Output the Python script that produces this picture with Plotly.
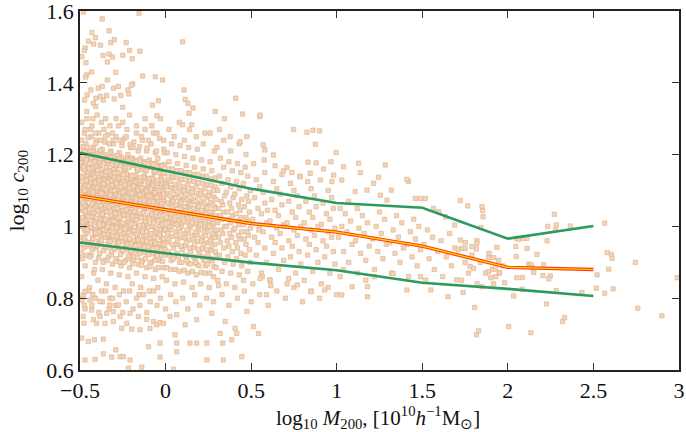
import plotly.graph_objects as go

# ---------------- binned statistics (lines) ----------------
bin_x = [-0.5, 0.0, 0.5, 1.0, 1.5, 2.0, 2.5]
upper_y = [1.205, 1.155, 1.105, 1.065, 1.052, 0.966, 1.001]
median_y = [1.085, 1.047, 1.008, 0.984, 0.945, 0.886, 0.880]
lower_y = [0.955, 0.925, 0.899, 0.878, 0.843, 0.826, 0.806]

x_ticks = [-0.5, 0, 0.5, 1, 1.5, 2, 2.5, 3]
x_labels = ["\u22120.5", "0", "0.5", "1", "1.5", "2", "2.5", "3"]
y_ticks = [0.6, 0.8, 1.0, 1.2, 1.4, 1.6]
y_labels = ["0.6", "0.8", "1", "1.2", "1.4", "1.6"]
x_title = "log<sub>10</sub> <i>M</i><sub>200</sub>, [10<sup>10</sup><i>h</i><sup>\u22121</sup>M<sub>\u2299</sub>]"
y_title = "log<sub>10</sub> <i>c</i><sub>200</sub>"

# ---------------- halo points ----------------
core_low_mass = [
(-0.49,0.86),(-0.47,0.89),(-0.46,0.92),(-0.48,0.94),(-0.455,0.95),(-0.495,0.97),(-0.465,0.98),(-0.475,0.99),(-0.485,1.00),(-0.46,1.01),(-0.49,1.02),(-0.47,1.03),(-0.455,1.04),(-0.48,1.05),(-0.465,1.055),(-0.495,1.06),(-0.475,1.07),(-0.46,1.075),(-0.485,1.08),(-0.47,1.09),(-0.49,1.10),(-0.455,1.105),(-0.48,1.11),(-0.465,1.12),(-0.475,1.13),(-0.495,1.14),(-0.46,1.15),(-0.485,1.16),(-0.47,1.17),(-0.49,1.18),(-0.455,1.19),(-0.48,1.21),(-0.465,1.23),(-0.475,1.26),(-0.49,1.29),(-0.46,1.32),(-0.485,0.91),(-0.47,0.96),(-0.455,1.00),(-0.49,1.045),(-0.465,1.095),(-0.48,1.135),(-0.495,1.19),(-0.47,1.065),(-0.485,1.025),
(-0.445,0.83),(-0.42,0.87),(-0.41,0.90),(-0.435,0.92),(-0.405,0.94),(-0.44,0.955),(-0.425,0.97),(-0.415,0.985),(-0.43,0.995),(-0.445,1.005),(-0.41,1.015),(-0.435,1.025),(-0.42,1.035),(-0.405,1.045),(-0.44,1.055),(-0.425,1.06),(-0.415,1.07),(-0.43,1.08),(-0.445,1.09),(-0.41,1.095),(-0.435,1.105),(-0.42,1.115),(-0.405,1.125),(-0.44,1.135),(-0.425,1.145),(-0.415,1.155),(-0.43,1.165),(-0.445,1.175),(-0.41,1.185),(-0.435,1.2),(-0.42,1.22),(-0.405,1.24),(-0.44,1.27),(-0.425,1.30),(-0.415,0.88),(-0.43,0.935),(-0.405,0.99),(-0.445,1.04),(-0.42,1.085),(-0.41,1.14),(-0.435,1.25),(-0.425,0.81),
(-0.395,0.85),(-0.37,0.88),(-0.36,0.905),(-0.385,0.925),(-0.355,0.94),(-0.39,0.96),(-0.375,0.97),(-0.365,0.98),(-0.38,0.99),(-0.395,1.0),(-0.36,1.01),(-0.385,1.02),(-0.37,1.03),(-0.355,1.04),(-0.39,1.05),(-0.375,1.06),(-0.365,1.065),(-0.38,1.075),(-0.395,1.085),(-0.36,1.09),(-0.385,1.1),(-0.37,1.11),(-0.355,1.12),(-0.39,1.13),(-0.375,1.14),(-0.365,1.15),(-0.38,1.16),(-0.395,1.17),(-0.36,1.185),(-0.385,1.2),(-0.37,1.215),(-0.355,1.235),(-0.39,1.26),(-0.375,1.29),(-0.365,0.9),(-0.38,0.95),(-0.355,1.0),(-0.395,1.045),(-0.37,1.095),(-0.36,1.135),(-0.385,1.18),(-0.375,0.82),
(-0.345,0.84),(-0.32,0.87),(-0.31,0.895),(-0.335,0.915),(-0.305,0.935),(-0.34,0.95),(-0.325,0.965),(-0.315,0.975),(-0.33,0.985),(-0.345,0.995),(-0.31,1.005),(-0.335,1.015),(-0.32,1.025),(-0.305,1.035),(-0.34,1.045),(-0.325,1.05),(-0.315,1.06),(-0.33,1.07),(-0.345,1.08),(-0.31,1.085),(-0.335,1.095),(-0.32,1.105),(-0.305,1.115),(-0.34,1.125),(-0.325,1.135),(-0.315,1.145),(-0.33,1.155),(-0.345,1.165),(-0.31,1.18),(-0.335,1.195),(-0.32,1.21),(-0.305,1.23),(-0.34,1.255),(-0.325,1.28),(-0.315,0.92),(-0.33,0.96),(-0.305,1.0),(-0.345,1.04),(-0.32,1.09),(-0.31,1.13),(-0.335,1.175),(-0.325,0.8),
(-0.295,0.83),(-0.27,0.865),(-0.26,0.89),(-0.285,0.91),(-0.255,0.93),(-0.29,0.945),(-0.275,0.96),(-0.265,0.97),(-0.28,0.98),(-0.295,0.99),(-0.26,1.0),(-0.285,1.01),(-0.27,1.02),(-0.255,1.03),(-0.29,1.04),(-0.275,1.045),(-0.265,1.055),(-0.28,1.065),(-0.295,1.075),(-0.26,1.08),(-0.285,1.09),(-0.27,1.1),(-0.255,1.11),(-0.29,1.12),(-0.275,1.13),(-0.265,1.14),(-0.28,1.15),(-0.295,1.16),(-0.26,1.175),(-0.285,1.19),(-0.27,1.205),(-0.255,1.225),(-0.29,1.25),(-0.275,1.28),(-0.265,0.9),(-0.28,0.955),(-0.255,0.995),(-0.295,1.035),(-0.27,1.085),(-0.26,1.125),(-0.285,1.17),
(-0.245,0.82),(-0.22,0.86),(-0.21,0.885),(-0.235,0.905),(-0.205,0.925),(-0.24,0.94),(-0.225,0.955),(-0.215,0.965),(-0.23,0.975),(-0.245,0.985),(-0.21,0.995),(-0.235,1.005),(-0.22,1.015),(-0.205,1.025),(-0.24,1.035),(-0.225,1.045),(-0.215,1.05),(-0.23,1.06),(-0.245,1.07),(-0.21,1.075),(-0.235,1.085),(-0.22,1.095),(-0.205,1.105),(-0.24,1.115),(-0.225,1.125),(-0.215,1.135),(-0.23,1.145),(-0.245,1.155),(-0.21,1.17),(-0.235,1.185),(-0.22,1.2),(-0.205,1.22),(-0.24,1.245),(-0.225,1.27),(-0.215,0.91),(-0.23,0.95),(-0.205,0.99),(-0.245,1.03),(-0.22,1.08),(-0.21,1.12),(-0.235,1.16),
(-0.195,0.84),(-0.17,0.87),(-0.16,0.895),(-0.185,0.915),(-0.155,0.93),(-0.19,0.945),(-0.175,0.96),(-0.165,0.97),(-0.18,0.98),(-0.195,0.99),(-0.16,1.0),(-0.185,1.01),(-0.17,1.02),(-0.155,1.03),(-0.19,1.04),(-0.175,1.05),(-0.165,1.06),(-0.18,1.07),(-0.195,1.08),(-0.16,1.09),(-0.185,1.1),(-0.17,1.11),(-0.155,1.12),(-0.19,1.13),(-0.175,1.14),(-0.165,1.155),(-0.18,1.17),(-0.195,1.19),(-0.16,1.21),(-0.185,1.235),(-0.17,1.26),(-0.155,0.81),(-0.19,0.905),(-0.165,0.95),(-0.18,1.035),(-0.16,1.075),(-0.185,1.125),
(-0.145,0.83),(-0.12,0.86),(-0.11,0.885),(-0.135,0.905),(-0.105,0.925),(-0.14,0.94),(-0.125,0.955),(-0.115,0.965),(-0.13,0.975),(-0.145,0.985),(-0.11,0.995),(-0.135,1.005),(-0.12,1.015),(-0.105,1.025),(-0.14,1.035),(-0.125,1.045),(-0.115,1.055),(-0.13,1.065),(-0.145,1.075),(-0.11,1.085),(-0.135,1.095),(-0.12,1.105),(-0.105,1.115),(-0.14,1.125),(-0.125,1.14),(-0.115,1.155),(-0.13,1.17),(-0.145,1.19),(-0.11,1.21),(-0.135,1.24),(-0.12,1.27),(-0.14,0.9),(-0.115,0.945),(-0.13,1.04),(-0.11,1.07),(-0.135,1.13),
(-0.095,0.82),(-0.07,0.855),(-0.06,0.88),(-0.085,0.9),(-0.055,0.92),(-0.09,0.935),(-0.075,0.95),(-0.065,0.96),(-0.08,0.97),(-0.095,0.98),(-0.06,0.99),(-0.085,1.0),(-0.07,1.01),(-0.055,1.02),(-0.09,1.03),(-0.075,1.04),(-0.065,1.05),(-0.08,1.06),(-0.095,1.07),(-0.06,1.08),(-0.085,1.09),(-0.07,1.1),(-0.055,1.11),(-0.09,1.12),(-0.075,1.135),(-0.065,1.15),(-0.08,1.165),(-0.095,1.185),(-0.06,1.205),(-0.085,1.23),(-0.07,1.26),(-0.09,0.895),(-0.065,0.94),(-0.08,1.025),(-0.06,1.065),(-0.085,1.12),
(-0.045,0.83),(-0.02,0.86),(-0.01,0.885),(-0.035,0.905),(-0.005,0.92),(-0.04,0.935),(-0.025,0.95),(-0.015,0.96),(-0.03,0.97),(-0.045,0.98),(-0.01,0.99),(-0.035,1.0),(-0.02,1.01),(-0.005,1.02),(-0.04,1.03),(-0.025,1.04),(-0.015,1.05),(-0.03,1.06),(-0.045,1.07),(-0.01,1.08),(-0.035,1.09),(-0.02,1.1),(-0.005,1.11),(-0.04,1.12),(-0.025,1.135),(-0.015,1.15),(-0.03,1.17),(-0.045,1.19),(-0.01,1.215),(-0.035,1.245),(-0.04,0.91),(-0.015,0.945),(-0.03,1.035),(-0.01,1.07),(-0.035,1.115),
]

core_fill = [
(-0.4925,0.925),(-0.4625,0.945),(-0.4775,0.962),(-0.4525,0.985),(-0.4875,1.004),(-0.4675,1.016),(-0.4575,1.034),(-0.4825,1.047),(-0.4725,1.058),(-0.4925,1.073),(-0.4525,1.086),(-0.4775,1.098),(-0.4625,1.114),(-0.4875,1.126),(-0.4575,1.143),(-0.4725,1.156),(-0.4925,1.172),(-0.4675,1.198),(-0.4825,1.222),(-0.4525,1.247),
(-0.4425,0.915),(-0.4175,0.948),(-0.4275,0.96),(-0.4025,0.978),(-0.4375,0.998),(-0.4125,1.012),(-0.4325,1.028),(-0.4075,1.05),(-0.4225,1.066),(-0.4475,1.078),(-0.4025,1.102),(-0.4275,1.092),(-0.4125,1.11),(-0.4375,1.122),(-0.4175,1.138),(-0.4475,1.152),(-0.4025,1.168),(-0.4325,1.19),(-0.4225,1.21),(-0.4075,1.232),
(-0.3925,0.912),(-0.3625,0.932),(-0.3775,0.954),(-0.3525,0.97),(-0.3875,0.985),(-0.3675,1.005),(-0.3575,1.022),(-0.3825,1.036),(-0.3725,1.052),(-0.3925,1.066),(-0.3525,1.079),(-0.3775,1.09),(-0.3625,1.106),(-0.3875,1.118),(-0.3575,1.132),(-0.3725,1.146),(-0.3925,1.162),(-0.3675,1.19),(-0.3825,1.212),(-0.3525,1.25),
(-0.3425,0.905),(-0.3175,0.93),(-0.3275,0.946),(-0.3025,0.962),(-0.3375,0.978),(-0.3125,0.996),(-0.3325,1.01),(-0.3075,1.028),(-0.3225,1.042),(-0.3475,1.058),(-0.3025,1.072),(-0.3275,1.082),(-0.3125,1.098),(-0.3375,1.11),(-0.3175,1.126),(-0.3475,1.14),(-0.3025,1.158),(-0.3325,1.182),(-0.3225,1.205),(-0.3075,1.24),
(-0.2925,0.902),(-0.2625,0.922),(-0.2775,0.94),(-0.2525,0.958),(-0.2875,0.972),(-0.2675,0.988),(-0.2575,1.006),(-0.2825,1.022),(-0.2725,1.036),(-0.2925,1.052),(-0.2525,1.066),(-0.2775,1.076),(-0.2625,1.092),(-0.2875,1.104),(-0.2575,1.118),(-0.2725,1.134),(-0.2925,1.15),(-0.2675,1.172),(-0.2825,1.198),(-0.2525,1.235),
(-0.2425,0.9),(-0.2175,0.918),(-0.2275,0.935),(-0.2025,0.952),(-0.2375,0.968),(-0.2125,0.982),(-0.2325,0.998),(-0.2075,1.012),(-0.2225,1.03),(-0.2475,1.044),(-0.2025,1.058),(-0.2275,1.07),(-0.2125,1.086),(-0.2375,1.1),(-0.2175,1.112),(-0.2475,1.128),(-0.2025,1.142),(-0.2325,1.165),(-0.2225,1.19),(-0.2075,1.228),
(-0.1925,0.896),(-0.1625,0.914),(-0.1775,0.932),(-0.1525,0.948),(-0.1875,0.962),(-0.1675,0.978),(-0.1575,0.995),(-0.1825,1.008),(-0.1725,1.026),(-0.1925,1.04),(-0.1525,1.055),(-0.1775,1.066),(-0.1625,1.082),(-0.1875,1.095),(-0.1575,1.108),(-0.1725,1.124),(-0.1925,1.138),(-0.1675,1.162),(-0.1825,1.185),(-0.1525,1.222),
(-0.1425,0.892),(-0.1175,0.91),(-0.1275,0.928),(-0.1025,0.944),(-0.1375,0.96),(-0.1125,0.975),(-0.1325,0.99),(-0.1075,1.004),(-0.1225,1.022),(-0.1475,1.036),(-0.1025,1.05),(-0.1275,1.062),(-0.1125,1.078),(-0.1375,1.09),(-0.1175,1.104),(-0.1475,1.118),(-0.1025,1.134),(-0.1325,1.158),(-0.1225,1.18),(-0.1075,1.218),
(-0.0925,0.888),(-0.0625,0.906),(-0.0775,0.924),(-0.0525,0.94),(-0.0875,0.955),(-0.0675,0.97),(-0.0575,0.986),(-0.0825,1.0),(-0.0725,1.016),(-0.0925,1.032),(-0.0525,1.046),(-0.0775,1.058),(-0.0625,1.074),(-0.0875,1.086),(-0.0575,1.1),(-0.0725,1.114),(-0.0925,1.13),(-0.0675,1.152),(-0.0825,1.175),(-0.0525,1.21),
(-0.0425,0.885),(-0.0175,0.902),(-0.0275,0.92),(-0.0025,0.936),(-0.0375,0.952),(-0.0125,0.966),(-0.0325,0.982),(-0.0075,0.996),(-0.0225,1.012),(-0.0475,1.028),(-0.0025,1.042),(-0.0275,1.054),(-0.0125,1.07),(-0.0375,1.082),(-0.0175,1.096),(-0.0475,1.11),(-0.0025,1.126),(-0.0325,1.148),(-0.0225,1.17),(-0.0075,1.205),
(0.0075,0.885),(0.0325,0.905),(0.0225,0.922),(0.0475,0.94),(0.0125,0.955),(0.0375,0.972),(0.0175,0.99),(0.0425,1.006),(0.0275,1.022),(0.0025,1.04),(0.0475,1.05),(0.0225,1.062),(0.0375,1.08),(0.0125,1.092),(0.0325,1.108),(0.0075,1.12),(0.0425,1.138),(0.0175,1.16),
(0.0575,0.88),(0.0825,0.9),(0.0725,0.918),(0.0975,0.935),(0.0625,0.95),(0.0875,0.968),(0.0675,0.985),(0.0925,1.0),(0.0775,1.016),(0.0525,1.035),(0.0975,1.045),(0.0725,1.058),(0.0875,1.075),(0.0625,1.088),(0.0825,1.104),(0.0575,1.116),(0.0925,1.132),(0.0675,1.155),
(0.1075,0.878),(0.1325,0.898),(0.1225,0.915),(0.1475,0.93),(0.1125,0.946),(0.1375,0.962),(0.1175,0.98),(0.1425,0.996),(0.1275,1.01),(0.1025,1.03),(0.1475,1.04),(0.1225,1.052),(0.1375,1.07),(0.1125,1.082),(0.1325,1.098),(0.1075,1.11),(0.1425,1.128),(0.1175,1.15),
(0.1575,0.875),(0.1825,0.895),(0.1725,0.91),(0.1975,0.926),(0.1625,0.942),(0.1875,0.958),(0.1675,0.975),(0.1925,0.99),(0.1775,1.005),(0.1525,1.024),(0.1975,1.035),(0.1725,1.046),(0.1875,1.064),(0.1625,1.076),(0.1825,1.092),(0.1575,1.105),(0.1925,1.122),(0.1675,1.145),
(0.2075,0.872),(0.2325,0.89),(0.2225,0.906),(0.2475,0.922),(0.2125,0.938),(0.2375,0.954),(0.2175,0.97),(0.2425,0.986),(0.2275,1.0),(0.2025,1.018),(0.2475,1.03),(0.2225,1.042),(0.2375,1.058),(0.2125,1.07),(0.2325,1.086),(0.2075,1.1),(0.2425,1.116),(0.2175,1.14),
(0.2575,0.87),(0.2825,0.888),(0.2725,0.904),(0.2975,0.918),(0.2625,0.934),(0.2875,0.95),(0.2675,0.966),(0.2925,0.982),(0.2775,0.996),(0.2525,1.014),(0.2975,1.026),(0.2725,1.038),(0.2875,1.054),(0.2625,1.066),(0.2825,1.082),(0.2575,1.094),(0.2925,1.11),(0.2675,1.132),
]

core_fill_dense = [
(-0.498,0.952),(-0.474,0.968),(-0.459,0.991),(-0.486,1.012),(-0.451,1.027),(-0.469,1.042),(-0.494,1.052),(-0.481,1.066),(-0.457,1.082),(-0.473,1.101),(-0.499,1.108),(-0.462,1.128),(-0.488,1.138),(-0.452,1.152),(-0.478,1.166),(-0.497,1.178),(-0.463,1.186),(-0.484,1.196),(-0.456,1.212),(-0.471,1.207),
(-0.448,0.95),(-0.424,0.966),(-0.409,0.982),(-0.436,1.008),(-0.401,1.022),(-0.419,1.038),(-0.444,1.048),(-0.431,1.062),(-0.407,1.078),(-0.423,1.096),(-0.449,1.112),(-0.412,1.122),(-0.438,1.132),(-0.402,1.148),(-0.428,1.162),(-0.447,1.16),(-0.413,1.18),(-0.434,1.192),(-0.406,1.205),(-0.421,1.2),
(-0.398,0.946),(-0.374,0.962),(-0.359,0.978),(-0.386,1.004),(-0.351,1.018),(-0.369,1.034),(-0.394,1.044),(-0.381,1.058),(-0.357,1.074),(-0.373,1.092),(-0.399,1.108),(-0.362,1.118),(-0.388,1.128),(-0.352,1.144),(-0.378,1.158),(-0.397,1.156),(-0.363,1.176),(-0.384,1.188),(-0.356,1.2),(-0.371,1.196),
(-0.348,0.942),(-0.324,0.958),(-0.309,0.974),(-0.336,1.0),(-0.301,1.014),(-0.319,1.03),(-0.344,1.04),(-0.331,1.054),(-0.307,1.07),(-0.323,1.088),(-0.349,1.104),(-0.312,1.114),(-0.338,1.124),(-0.302,1.14),(-0.328,1.154),(-0.347,1.152),(-0.313,1.172),(-0.334,1.184),(-0.306,1.196),(-0.321,1.192),
(-0.298,0.938),(-0.274,0.954),(-0.259,0.97),(-0.286,0.996),(-0.251,1.01),(-0.269,1.026),(-0.294,1.036),(-0.281,1.05),(-0.257,1.066),(-0.273,1.084),(-0.299,1.1),(-0.262,1.11),(-0.288,1.12),(-0.252,1.136),(-0.278,1.15),(-0.297,1.148),(-0.263,1.168),(-0.284,1.18),(-0.256,1.192),(-0.271,1.188),
(-0.248,0.934),(-0.224,0.95),(-0.209,0.966),(-0.236,0.992),(-0.201,1.006),(-0.219,1.022),(-0.244,1.032),(-0.231,1.046),(-0.207,1.062),(-0.223,1.08),(-0.249,1.096),(-0.212,1.106),(-0.238,1.116),(-0.202,1.132),(-0.228,1.146),(-0.247,1.144),(-0.213,1.164),(-0.234,1.176),(-0.206,1.188),(-0.221,1.184),
(-0.198,0.93),(-0.174,0.946),(-0.159,0.962),(-0.186,0.988),(-0.151,1.002),(-0.169,1.018),(-0.194,1.028),(-0.181,1.042),(-0.157,1.058),(-0.173,1.076),(-0.199,1.092),(-0.162,1.102),(-0.188,1.112),(-0.152,1.128),(-0.178,1.142),(-0.197,1.14),(-0.163,1.16),(-0.184,1.172),(-0.156,1.184),(-0.171,1.18),
(-0.148,0.926),(-0.124,0.942),(-0.109,0.958),(-0.136,0.984),(-0.101,0.998),(-0.119,1.014),(-0.144,1.024),(-0.131,1.038),(-0.107,1.054),(-0.123,1.072),(-0.149,1.088),(-0.112,1.098),(-0.138,1.108),(-0.102,1.124),(-0.128,1.138),(-0.147,1.136),(-0.113,1.156),(-0.134,1.168),(-0.106,1.18),(-0.121,1.176),
(-0.098,0.922),(-0.074,0.938),(-0.059,0.954),(-0.086,0.98),(-0.051,0.994),(-0.069,1.01),(-0.094,1.02),(-0.081,1.034),(-0.057,1.05),(-0.073,1.068),(-0.099,1.084),(-0.062,1.094),(-0.088,1.104),(-0.052,1.12),(-0.078,1.134),(-0.097,1.132),(-0.063,1.152),(-0.084,1.164),(-0.056,1.176),(-0.071,1.172),
(-0.048,0.918),(-0.024,0.934),(-0.009,0.95),(-0.036,0.976),(-0.001,0.99),(-0.019,1.006),(-0.044,1.016),(-0.031,1.03),(-0.007,1.046),(-0.023,1.064),(-0.049,1.08),(-0.012,1.09),(-0.038,1.1),(-0.002,1.116),(-0.028,1.13),(-0.047,1.128),(-0.013,1.148),(-0.034,1.16),(-0.006,1.172),(-0.021,1.168),
]

core_mid_mass = [
(0.005,0.85),(0.03,0.88),(0.045,0.91),(0.015,0.93),(0.04,0.95),(0.02,0.965),(0.01,0.98),(0.035,0.99),(0.025,1.0),(0.045,1.015),(0.005,1.025),(0.03,1.035),(0.02,1.045),(0.04,1.055),(0.01,1.065),(0.035,1.075),(0.025,1.085),(0.045,1.1),(0.005,1.11),(0.03,1.125),(0.015,1.14),(0.04,1.16),(0.02,1.18),(0.01,1.205),(0.035,1.23),(0.025,0.92),(0.045,1.07),(0.015,1.01),
(0.055,0.84),(0.08,0.875),(0.095,0.9),(0.065,0.925),(0.09,0.945),(0.07,0.96),(0.06,0.975),(0.085,0.985),(0.075,0.995),(0.095,1.01),(0.055,1.02),(0.08,1.03),(0.07,1.04),(0.09,1.05),(0.06,1.06),(0.085,1.07),(0.075,1.08),(0.095,1.095),(0.055,1.105),(0.08,1.12),(0.065,1.135),(0.09,1.155),(0.07,1.175),(0.06,1.2),(0.085,1.225),(0.075,0.915),(0.095,1.065),(0.065,1.005),
(0.105,0.845),(0.13,0.87),(0.145,0.895),(0.115,0.92),(0.14,0.94),(0.12,0.955),(0.11,0.97),(0.135,0.98),(0.125,0.99),(0.145,1.005),(0.105,1.015),(0.13,1.025),(0.12,1.035),(0.14,1.045),(0.11,1.055),(0.135,1.065),(0.125,1.075),(0.145,1.09),(0.105,1.1),(0.13,1.115),(0.115,1.13),(0.14,1.15),(0.12,1.17),(0.11,1.195),(0.135,1.22),(0.125,0.905),(0.145,1.06),
(0.155,0.83),(0.18,0.865),(0.195,0.89),(0.165,0.915),(0.19,0.935),(0.17,0.95),(0.16,0.965),(0.185,0.975),(0.175,0.985),(0.195,1.0),(0.155,1.01),(0.18,1.02),(0.17,1.03),(0.19,1.04),(0.16,1.05),(0.185,1.06),(0.175,1.07),(0.195,1.085),(0.155,1.095),(0.18,1.11),(0.165,1.125),(0.19,1.145),(0.17,1.165),(0.16,1.19),(0.185,1.215),(0.175,0.9),(0.195,1.055),
(0.205,0.84),(0.23,0.87),(0.245,0.895),(0.215,0.915),(0.24,0.935),(0.22,0.95),(0.21,0.96),(0.235,0.975),(0.225,0.985),(0.245,0.995),(0.205,1.005),(0.23,1.015),(0.22,1.025),(0.24,1.035),(0.21,1.045),(0.235,1.055),(0.225,1.065),(0.245,1.08),(0.205,1.09),(0.23,1.105),(0.215,1.12),(0.24,1.14),(0.22,1.16),(0.21,1.185),(0.235,0.905),(0.245,1.05),
(0.255,0.83),(0.28,0.86),(0.295,0.885),(0.265,0.91),(0.29,0.93),(0.27,0.945),(0.26,0.96),(0.285,0.97),(0.275,0.98),(0.295,0.99),(0.255,1.0),(0.28,1.01),(0.27,1.02),(0.29,1.03),(0.26,1.04),(0.285,1.05),(0.275,1.06),(0.295,1.075),(0.255,1.085),(0.28,1.1),(0.265,1.115),(0.29,1.135),(0.27,1.155),(0.26,1.18),(0.285,1.21),
(0.305,0.85),(0.33,0.875),(0.345,0.9),(0.315,0.92),(0.34,0.94),(0.32,0.955),(0.31,0.97),(0.335,0.98),(0.325,0.99),(0.345,1.0),(0.305,1.01),(0.33,1.02),(0.32,1.03),(0.34,1.04),(0.31,1.05),(0.335,1.06),(0.325,1.07),(0.345,1.085),(0.305,1.1),(0.33,1.12),(0.315,1.14),(0.34,1.165),(0.32,1.19),(0.31,0.835),
(0.355,0.84),(0.38,0.87),(0.395,0.895),(0.365,0.915),(0.39,0.93),(0.37,0.945),(0.36,0.96),(0.385,0.97),(0.375,0.98),(0.395,0.99),(0.355,1.0),(0.38,1.01),(0.37,1.02),(0.39,1.03),(0.36,1.04),(0.385,1.05),(0.375,1.065),(0.395,1.08),(0.355,1.095),(0.38,1.11),(0.365,1.13),(0.39,1.155),(0.37,1.18),
(0.405,0.83),(0.43,0.865),(0.445,0.89),(0.415,0.91),(0.44,0.925),(0.42,0.94),(0.41,0.955),(0.435,0.965),(0.425,0.975),(0.445,0.985),(0.405,0.995),(0.43,1.005),(0.42,1.015),(0.44,1.025),(0.41,1.035),(0.435,1.045),(0.425,1.06),(0.445,1.075),(0.405,1.09),(0.43,1.105),(0.415,1.125),(0.44,1.15),(0.42,1.175),
(0.455,0.85),(0.48,0.875),(0.495,0.9),(0.465,0.92),(0.49,0.935),(0.47,0.95),(0.46,0.965),(0.485,0.975),(0.475,0.985),(0.495,0.995),(0.455,1.005),(0.48,1.015),(0.47,1.025),(0.49,1.04),(0.46,1.055),(0.485,1.07),(0.475,1.085),(0.495,1.1),(0.455,1.12),(0.48,1.14),(0.465,1.165),
]

core_high_mass = [
(0.51,0.84),(0.56,0.87),(0.59,0.9),(0.53,0.92),(0.58,0.94),(0.54,0.955),(0.52,0.97),(0.57,0.985),(0.55,1.0),(0.59,1.01),(0.51,1.02),(0.56,1.035),(0.54,1.05),(0.58,1.065),(0.52,1.08),(0.57,1.095),(0.55,1.11),(0.53,1.13),(0.58,1.15),(0.515,1.175),(0.565,0.86),(0.545,0.99),(0.595,1.045),
(0.61,0.85),(0.66,0.88),(0.69,0.905),(0.63,0.925),(0.68,0.94),(0.64,0.955),(0.62,0.97),(0.67,0.98),(0.65,0.995),(0.69,1.005),(0.61,1.015),(0.66,1.03),(0.64,1.045),(0.68,1.06),(0.62,1.075),(0.67,1.09),(0.65,1.105),(0.63,1.125),(0.68,1.145),(0.615,0.835),(0.695,1.0),
(0.71,0.84),(0.76,0.87),(0.79,0.895),(0.73,0.915),(0.78,0.93),(0.74,0.945),(0.72,0.96),(0.77,0.975),(0.75,0.99),(0.79,1.0),(0.71,1.01),(0.76,1.025),(0.74,1.04),(0.78,1.055),(0.72,1.07),(0.77,1.085),(0.75,1.1),(0.73,1.12),(0.785,1.14),
(0.81,0.85),(0.86,0.875),(0.89,0.9),(0.83,0.92),(0.88,0.935),(0.84,0.95),(0.82,0.965),(0.87,0.975),(0.85,0.99),(0.89,1.0),(0.81,1.01),(0.86,1.025),(0.84,1.04),(0.88,1.055),(0.82,1.07),(0.87,1.085),(0.85,1.105),(0.83,1.125),
(0.91,0.84),(0.96,0.87),(0.99,0.895),(0.93,0.915),(0.98,0.93),(0.94,0.945),(0.92,0.96),(0.97,0.97),(0.95,0.985),(0.99,0.995),(0.91,1.005),(0.96,1.02),(0.94,1.035),(0.98,1.05),(0.92,1.065),(0.97,1.08),(0.95,1.1),
(1.02,0.86),(1.07,0.9),(1.04,0.93),(1.09,0.95),(1.01,0.97),(1.06,0.985),(1.03,1.0),(1.08,1.015),(1.05,1.035),(1.02,1.05),(1.07,1.07),(1.04,0.88),
(1.12,0.87),(1.17,0.905),(1.14,0.925),(1.19,0.945),(1.11,0.96),(1.16,0.98),(1.13,0.995),(1.18,1.01),(1.15,1.03),(1.12,1.05),(1.17,0.85),
(1.22,0.88),(1.27,0.91),(1.24,0.93),(1.29,0.95),(1.21,0.965),(1.26,0.98),(1.23,1.0),(1.28,1.02),(1.25,1.04),(1.22,0.86),
(1.32,0.87),(1.37,0.9),(1.34,0.925),(1.39,0.94),(1.31,0.955),(1.36,0.97),(1.33,0.99),(1.38,1.01),(1.35,1.03),
(1.42,0.86),(1.47,0.89),(1.44,0.915),(1.49,0.935),(1.41,0.95),(1.46,0.965),(1.43,0.985),(1.48,1.0),(1.45,1.02),
(1.52,0.85),(1.57,0.88),(1.54,0.91),(1.59,0.93),(1.51,0.95),(1.56,0.97),(1.53,0.99),
(1.62,0.86),(1.67,0.89),(1.64,0.915),(1.69,0.94),(1.61,0.96),(1.66,0.98),
(1.73,0.85),(1.77,0.87),(1.75,0.9),(1.79,0.92),(1.71,0.935),
(1.82,0.84),(1.87,0.87),(1.84,0.9),(1.89,0.925),(1.93,0.86),(1.97,0.89),(1.95,0.87),
]

upper_tail = [
(-0.49,1.24),(-0.47,1.27),(-0.46,1.3),(-0.44,1.22),(-0.43,1.28),(-0.41,1.26),(-0.4,1.31),(-0.38,1.24),(-0.36,1.27),(-0.35,1.3),(-0.33,1.23),(-0.31,1.26),(-0.29,1.3),(-0.27,1.24),(-0.25,1.29),(-0.23,1.25),(-0.21,1.31),(-0.19,1.22),(-0.17,1.28),(-0.14,1.25),(-0.12,1.3),(-0.1,1.24),(-0.08,1.28),(-0.05,1.26),(-0.03,1.3),(-0.01,1.24),(0.02,1.27),(0.05,1.25),(0.08,1.29),(0.11,1.24),(0.14,1.27),(0.18,1.25),(0.22,1.23),(0.26,1.26),(0.3,1.22),(0.34,1.24),(0.38,1.21),(0.43,1.23),(0.47,1.2),
(-0.48,1.597),(-0.155,1.594),(-0.37,1.578),(-0.43,1.54),(-0.33,1.545),(-0.41,1.526),(-0.45,1.516),(-0.42,1.508),(-0.38,1.505),(-0.32,1.512),(-0.30,1.52),(-0.23,1.512),(0.10,1.514),(-0.47,1.497),(-0.21,1.49),(-0.15,1.488),(-0.33,1.48),(-0.365,1.476),(-0.25,1.477),(-0.31,1.472),(-0.195,1.467),(-0.34,1.458),(-0.49,1.473),(-0.465,1.456),(-0.475,1.49),
(-0.461,1.422),(-0.467,1.416),(-0.432,1.43),(-0.291,1.429),(-0.134,1.419),(-0.06,1.417),(-0.017,1.408),(-0.192,1.397),(-0.2,1.393),(-0.34,1.408),(-0.37,1.39),(-0.276,1.39),(-0.305,1.385),(-0.393,1.385),(-0.436,1.38),(-0.22,1.38),(-0.215,1.369),(0.108,1.38),(-0.042,1.35),(-0.077,1.338),(-0.25,1.332),(-0.3,1.355),(-0.364,1.352),(-0.407,1.357),(-0.459,1.366),(-0.422,1.343),(-0.408,1.334),(-0.473,1.352),(-0.381,1.362),(-0.344,1.365),(-0.262,1.365),
(0.41,1.357),(0.114,1.354),(0.13,1.343),(0.16,1.33),(0.29,1.32),(0.344,1.30),(0.45,1.313),(0.55,1.306),(-0.05,1.308),(0.137,1.315),(0.1,1.283),(0.153,1.283),(0.23,1.26),(0.315,1.27),(0.377,1.25),(0.475,1.25),(0.436,1.236),
(0.553,1.31),(0.748,1.27),(0.826,1.262),(0.861,1.268),(0.9,1.266),(0.875,1.229),(0.997,1.206),(0.57,1.227),(0.58,1.213),(0.63,1.199),(0.576,1.185),(0.64,1.169),(0.69,1.155),(0.709,1.164),(0.738,1.15),(0.832,1.179),(0.88,1.177),(0.966,1.18),(1.04,1.166),(0.923,1.16),(0.982,1.143),(1.03,1.129),(1.128,1.176),(1.284,1.171),(1.138,1.15),(1.245,1.137),(1.216,1.12),(1.42,1.125),(1.41,1.131),(0.787,1.138),(0.845,1.148),(0.904,1.129),(0.972,1.125),(1.108,1.097),(1.177,1.101),(1.255,1.087),(1.319,1.101),(1.294,1.073),(1.459,1.078),(1.489,1.078),(1.518,1.078),(1.566,1.05),(1.596,1.041),(1.635,1.027),(1.689,1.004),
]

lower_tail = [
(-0.49,0.8),(-0.47,0.77),(-0.45,0.82),(-0.43,0.78),(-0.41,0.8),(-0.39,0.76),(-0.37,0.79),(-0.35,0.82),(-0.33,0.77),(-0.31,0.8),(-0.29,0.78),(-0.27,0.81),(-0.25,0.76),(-0.23,0.79),(-0.21,0.82),(-0.19,0.77),(-0.17,0.8),(-0.15,0.78),(-0.13,0.81),(-0.11,0.76),(-0.09,0.79),(-0.07,0.82),(-0.05,0.78),(-0.03,0.8),(0.0,0.77),(0.03,0.81),(0.06,0.79),(0.1,0.8),(0.13,0.77),(0.17,0.81),(0.2,0.78),(0.24,0.8),(0.28,0.79),(0.33,0.81),(0.37,0.78),(0.42,0.8),(0.46,0.82),(0.5,0.79),(0.55,0.81),(0.6,0.78),(0.65,0.82),(0.7,0.8),(0.75,0.83),(0.8,0.79),(0.85,0.82),(0.9,0.8),(0.95,0.83),(1.0,0.81),
(-0.481,0.809),(-0.471,0.819),(-0.49,0.795),(-0.475,0.781),(-0.481,0.749),(-0.477,0.73),(-0.49,0.689),(-0.451,0.679),(-0.416,0.684),(-0.364,0.686),(-0.471,0.628),(-0.412,0.63),(-0.364,0.645),(-0.315,0.636),(-0.291,0.656),(-0.266,0.637),(-0.247,0.637),(-0.208,0.628),(-0.217,0.605),(-0.139,0.608),(-0.032,0.636),(0.046,0.602),(-0.1,0.665),(-0.032,0.675),(0.065,0.675),(0.055,0.698),(0.065,0.651),(-0.091,0.716),(-0.149,0.712),(-0.198,0.714),(-0.256,0.716),(-0.227,0.73),(-0.208,0.758),(-0.159,0.749),(-0.11,0.741),(-0.071,0.735),(-0.052,0.726),(-0.032,0.732),(-0.013,0.73),(0.026,0.749),(0.065,0.754),(0.114,0.726),(0.143,0.675),(0.182,0.74),(0.241,0.628),(0.241,0.675),(0.27,0.758),(0.319,0.702),(0.338,0.628),(0.348,0.735),(0.387,0.684),(0.406,0.716),(0.416,0.702),(0.445,0.637),(0.475,0.763),(0.514,0.721),(0.543,0.702),(-0.422,0.74),(-0.403,0.73),(-0.383,0.749),(-0.354,0.73),(-0.305,0.735),(-0.266,0.749),(-0.276,0.781),(-0.325,0.781),(-0.383,0.791),(-0.442,0.795),(-0.432,0.767),(-0.344,0.758),(-0.305,0.763),(0.182,0.675),(0.334,0.675),
(0.553,0.855),(0.61,0.851),(0.77,0.837),(0.85,0.818),(0.93,0.823),(1.03,0.809),(1.18,0.832),(1.18,0.804),(1.33,0.869),(1.49,0.86),(1.55,0.823),(1.65,0.804),(1.70,0.851),(0.59,0.81),(0.72,0.855),(1.09,0.832),(1.41,0.823),
]

high_mass_points = [
(1.722,1.072),(1.765,1.057),(1.849,1.055),(1.853,1.044),(1.855,1.027),(1.843,0.997),(1.722,0.962),(1.751,0.955),(1.732,0.939),(1.751,0.939),(1.79,0.944),(1.819,0.96),(1.819,0.953),(1.816,0.937),(1.936,0.942),(1.888,0.913),(1.917,0.913),(1.946,0.905),(1.78,0.888),(1.8,0.883),(1.888,0.874),(1.911,0.881),(1.927,0.881),(1.952,0.871),(1.901,0.857),(1.917,0.84),(1.981,0.843),(1.738,0.816),(1.849,0.832),(1.806,0.774),(1.816,0.698),(1.829,0.709),(2.005,0.721),(2.135,0.704),
(2.053,0.967),(2.063,0.964),(2.092,0.967),(2.112,0.967),(2.046,0.944),(2.112,0.939),(2.049,0.916),(2.17,0.922),(2.122,0.895),(2.135,0.893),(2.141,0.886),(2.209,0.893),(2.151,0.872),(2.205,0.863),(2.248,0.862),(2.239,0.854),(2.053,0.857),(2.085,0.858),(2.034,0.806),(2.083,0.825),(2.225,0.784),(2.283,0.821),(2.32,0.735),(2.332,0.746),(2.229,0.96),(2.272,1.034),(2.283,1.004),(2.278,0.99),(2.365,1.001),(2.233,1.0),(2.433,0.816),(2.521,0.865),(2.517,0.828),(2.566,1.009),(2.566,0.814),(2.58,0.927),(2.605,0.922),(2.609,0.911),(2.589,0.881),(2.615,0.826),(2.745,0.9),(2.759,0.772),(2.9,0.751),(2.989,0.857),
]

all_pts = (core_low_mass + core_fill + core_fill_dense + core_mid_mass + core_high_mass
           + upper_tail + lower_tail + high_mass_points)
pts_x = [p[0] for p in all_pts]
pts_y = [p[1] for p in all_pts]

fig = go.Figure()
fig.add_trace(go.Scatter(
    x=pts_x, y=pts_y, mode="markers",
    marker=dict(symbol="square", size=4.3, color="#f2d6bb",
                line=dict(color="#e2b38c", width=0.7)),
    showlegend=False, hoverinfo="skip"))

green = "#2b9a5e"
fig.add_trace(go.Scatter(x=bin_x, y=upper_y, mode="lines",
                         line=dict(color=green, width=2.6), showlegend=False))
fig.add_trace(go.Scatter(x=bin_x, y=lower_y, mode="lines",
                         line=dict(color=green, width=2.6), showlegend=False))
fig.add_trace(go.Scatter(x=bin_x, y=median_y, mode="lines",
                         line=dict(color="#ff3a10", width=3.4), showlegend=False))
fig.add_trace(go.Scatter(x=bin_x, y=median_y, mode="lines",
                         line=dict(color="#ffe000", width=1.2), showlegend=False))

axis_font = dict(family="Liberation Serif", size=22, color="#111")
title_font = dict(family="Liberation Serif", size=21, color="#111")
common = dict(showgrid=False, zeroline=False, showline=True, linecolor="#222",
              linewidth=1.6, mirror="ticks", ticks="inside", ticklen=7,
              tickwidth=1.3, tickcolor="#333", tickfont=axis_font,
              automargin=False, ticklabeloverflow="allow")

fig.update_xaxes(range=[-0.5, 3.0], tickvals=x_ticks, ticktext=x_labels, **common)
fig.update_yaxes(range=[0.6, 1.6], tickvals=y_ticks, ticktext=y_labels, **common)

fig.add_annotation(text=x_title, xref="paper", yref="paper", x=0.497, y=-0.132,
                   xanchor="center", yanchor="middle", showarrow=False, font=title_font)
fig.add_annotation(text=y_title, xref="paper", yref="paper", x=-0.105, y=0.5,
                   xanchor="center", yanchor="middle", textangle=-90,
                   showarrow=False, font=axis_font)

fig.update_layout(width=686, height=432, margin=dict(l=80, r=7, t=11, b=62),
                  paper_bgcolor="white", plot_bgcolor="white",
                  font=dict(family="Liberation Serif"))

fig.write_html("out.html")
